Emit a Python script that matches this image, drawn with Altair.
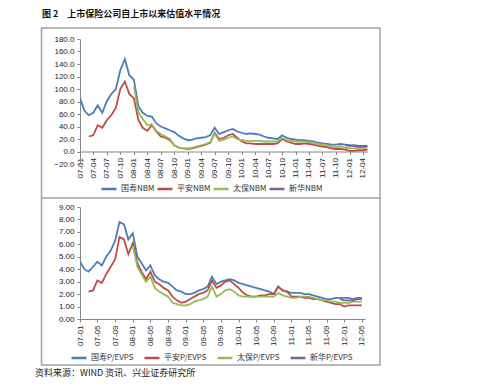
import altair as alt
import pandas as pd

# ---------------- data (monthly) ----------------
MONTHS = [f"{y}-{m:02d}-01" for y in range(2007, 2013) for m in range(1, 13)][:65]  # 2007-01 .. 2012-05

NBM_NAMES = ["国寿NBM", "平安NBM", "太保NBM", "新华NBM"]
PEV_NAMES = ["国寿P/EVPS", "平安P/EVPS", "太保P/EVPS", "新华P/EVPS"]
COLORS = ["#4A7EBB", "#BE4B48", "#98B954", "#7D60A0"]

N = None
GS_NBM = [85, 65, 58, 62, 74, 62, 80, 92, 100, 130,
          148, 122, 115, 72, 62, 57, 56, 45, 40, 37,
          34, 31, 25, 21, 18, 19, 21, 22, 23, 26,
          38, 28, 31, 34, 36, 32, 30, 28, 29, 28,
          27, 24, 22, 21, 20, 26, 22, 20, 19, 18,
          18, 17, 16, 14, 13, 12, 11, 11, 12, 11,
          10, 10, 9, 9, 9]
PA_NBM = [N, N, 24, 26, 42, 38, 50, 58, 70, 100,
          112, 92, 85, 50, 38, 33, 42, 32, 24, 22,
          18, 10, 6, 5, 4, 5, 7, 9, 11, 14,
          30, 20, 22, 26, 28, 22, 16, 13, 13, 12,
          12, 12, 12, 12, 13, 20, 16, 14, 12, 12,
          13, 12, 11, 9, 8, 7, 5, 4, 4, 3,
          1, 1, 2, 2, 3]
TB_NBM = [N, N, N, N, N, N, N, N, N, N,
          N, N, 105, 62, 52, 42, 44, 33, 28, 24,
          20, 10, 6, 5, 5, 6, 8, 10, 12, 15,
          28, 17, 19, 22, 24, 20, 18, 17, 17, 17,
          17, 16, 16, 16, 16, 22, 18, 17, 16, 16,
          16, 15, 14, 12, 11, 10, 8, 7, 8, 6,
          5, 5, 6, 6, 6]
XH_NBM = [N] * 59 + [10, 9, 9, 8, 8, 9]

GS_PEV = [4.6, 4.0, 3.8, 4.2, 4.6, 4.3, 5.0, 5.5, 6.3, 7.8,
          7.6, 6.4, 6.9, 5.0, 4.5, 3.9, 4.3, 3.5, 3.2, 3.0,
          2.9, 2.6, 2.3, 2.2, 2.0, 2.0, 2.1, 2.3, 2.4, 2.6,
          3.4, 2.8, 3.0, 3.1, 3.2, 3.1, 2.9, 2.8, 2.7, 2.6,
          2.5, 2.4, 2.3, 2.2, 2.0, 2.6, 2.3, 2.2, 2.1, 2.1,
          2.1, 2.0, 2.0, 1.9, 1.8, 1.7, 1.6, 1.6, 1.7, 1.7,
          1.7, 1.7, 1.6, 1.7, 1.7]
PA_PEV = [N, N, 2.2, 2.3, 3.1, 2.9, 3.6, 4.2, 4.8, 6.6,
          6.4, 5.2, 6.1, 4.5, 3.8, 3.2, 3.8, 3.0, 2.8, 2.5,
          2.3, 1.8, 1.5, 1.3, 1.4, 1.6, 1.8, 2.0, 2.1, 2.3,
          3.1, 2.5, 2.7, 3.0, 3.1, 2.8, 2.5, 2.1, 1.9, 1.8,
          1.8, 1.9, 1.9, 2.0, 2.0, 2.6, 2.3, 2.2, 1.8, 1.8,
          1.8, 1.7, 1.7, 1.6, 1.6, 1.5, 1.4, 1.3, 1.2, 1.2,
          1.0, 1.1, 1.1, 1.1, 1.1]
TB_PEV = [N, N, N, N, N, N, N, N, N, N,
          N, N, 5.9, 4.2, 3.6, 3.0, 3.4, 2.5, 2.2, 2.0,
          1.8, 1.3, 1.2, 1.1, 1.1, 1.2, 1.4, 1.5, 1.6, 1.8,
          2.6, 1.8, 2.0, 2.3, 2.4, 2.2, 1.9, 1.8, 1.8, 1.8,
          1.8, 1.8, 1.8, 1.8, 1.8, 2.1, 1.9, 1.8, 1.7, 1.7,
          1.8, 1.8, 1.8, 1.7, 1.6, 1.5, 1.5, 1.4, 1.4, 1.3,
          1.3, 1.3, 1.4, 1.4, 1.4]
XH_PEV = [N] * 59 + [1.6, 1.5, 1.5, 1.5, 1.6, 1.6]

TOP_TICKS = ["07-01", "07-04", "07-07", "07-10", "08-01", "08-04", "08-07", "08-10",
             "09-01", "09-04", "09-07", "09-10", "10-01", "10-04", "10-07", "10-10",
             "11-01", "11-04", "11-07", "11-10", "12-01", "12-04"]
BOT_TICKS = ["07-01", "07-05", "07-09", "08-01", "08-05", "08-09", "09-01", "09-05",
             "09-09", "10-01", "10-05", "10-09", "11-01", "11-05", "11-09", "12-01", "12-05"]
TOP_Y = [-20, 0, 20, 40, 60, 80, 100, 120, 140, 160, 180]
BOT_Y = [0, 1, 2, 3, 4, 5, 6, 7, 8, 9]

TITLE = "图 2　上市保险公司自上市以来估值水平情况"
SOURCE = "资料来源：WIND 资讯、兴业证券研究所"


def long_df(names, series):
    rows = []
    for name, vals in zip(names, series):
        for d, v in zip(MONTHS, vals):
            if v is not None:
                rows.append({"date": d, "value": v, "series": name})
    return pd.DataFrame(rows)


def dt(label):
    return alt.DateTime(year=2000 + int(label[:2]), month=int(label[3:]), date=1, utc=True)


one = pd.DataFrame({"k": [0]})
GRAY = "#A0A0A0"
AX_GRAY = "#868686"
LAB_FONT = "Liberation Sans"
CJK = "Noto Sans CJK SC"


def panel(df, names, ydom, yvals, yfmt, xend, ticks, W, H, xoffset, lx, ly, colpad, extra):
    color = alt.Color(
        "series:N",
        scale=alt.Scale(domain=names, range=COLORS),
        legend=alt.Legend(orient="none", legendX=lx, legendY=ly, direction="horizontal",
                          title=None, symbolType="stroke", symbolSize=225,
                          symbolStrokeWidth=2.5, labelFont=CJK, labelFontSize=8,
                          labelColor="#333333", columnPadding=colpad, labelOffset=3,
                          padding=0),
    )
    x = alt.X("date:T",
              scale=alt.Scale(type="utc", domain=[dt("07-01"), xend]),
              axis=alt.Axis(values=[dt(t) for t in ticks], format="%y-%m", labelAngle=-90,
                            offset=xoffset, title=None, labelFont=LAB_FONT, labelFontSize=8,
                            labelColor="#222222", domainColor=AX_GRAY, tickColor=AX_GRAY,
                            tickSize=3, labelPadding=3, grid=False))
    y = alt.Y("value:Q",
              scale=alt.Scale(domain=ydom, nice=False, zero=False),
              axis=alt.Axis(values=yvals, format=yfmt, title=None, labelFont=LAB_FONT,
                            labelFontSize=8, labelColor="#222222", domainColor=AX_GRAY,
                            tickColor=AX_GRAY, tickSize=3, labelPadding=3, grid=False))
    layers = list(extra)
    for nm in names:
        layers.append(
            alt.Chart(df).transform_filter(alt.datum.series == nm)
            .mark_line(strokeWidth=1.8, clip=True)
            .encode(x=x, y=y, color=color)
        )
    return alt.layer(*layers).properties(width=W, height=H)


# decorations for top panel (pixel positions relative to the plot area)
anchor = alt.Chart(one).mark_rect(fill="white", stroke=None).encode(
    x=alt.value(-72), x2=alt.value(-71), y=alt.value(-31), y2=alt.value(-30))
frame = alt.Chart(one).mark_rect(fillOpacity=0, stroke=GRAY, strokeWidth=1.5).encode(
    x=alt.value(-38.5), x2=alt.value(300), y=alt.value(-11), y2=alt.value(326))
divider = alt.Chart(one).mark_rule(stroke=GRAY, strokeWidth=1.5).encode(
    x=alt.value(-38.5), x2=alt.value(300), y=alt.value(159))
title = alt.Chart(pd.DataFrame({"t": [TITLE]})).mark_text(
    align="left", baseline="middle", font=CJK, fontSize=9, fontWeight="bold", color="#111111"
).encode(text="t:N", x=alt.value(-38), y=alt.value(-25))
source = alt.Chart(pd.DataFrame({"t": [SOURCE]})).mark_text(
    align="left", baseline="middle", font=CJK, fontSize=9, color="#222222"
).encode(text="t:N", x=alt.value(-45), y=alt.value(166))

top = panel(long_df(NBM_NAMES, [GS_NBM, PA_NBM, TB_NBM, XH_NBM]), NBM_NAMES,
            [-20, 180], TOP_Y, ".1f",
            alt.DateTime(year=2012, month=5, date=5, utc=True), TOP_TICKS,
            288, 125, -12.5, 20, 141, -3, [anchor, frame, divider, title])
bottom = panel(long_df(PEV_NAMES, [GS_PEV, PA_PEV, TB_PEV, XH_PEV]), PEV_NAMES,
               [0, 9], BOT_Y, ".2f",
               alt.DateTime(year=2012, month=5, date=23, utc=True), BOT_TICKS,
               285, 112, 0, -10, 142, 5, [source])

chart = (
    alt.vconcat(top, bottom, spacing=43, bounds="flush")
    .resolve_scale(color="independent", x="independent", y="independent")
    .resolve_legend(color="independent")
    .properties(padding=0, background="white")
    .configure_view(stroke=None)
)

chart.save("out.html", embed_options={"renderer": "svg", "actions": False})
